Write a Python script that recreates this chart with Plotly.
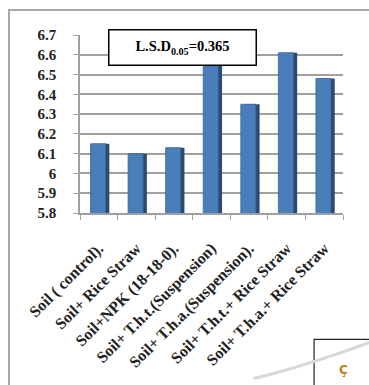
import plotly.graph_objects as go

# Treatments and measured values
categories = [
    "Soil ( control).",
    "Soil+ Rice Straw",
    "Soil+NPK (18-18-0).",
    "Soil+ T.h.t.(Suspension)",
    "Soil+ T.h.a.(Suspension).",
    "Soil+ T.h.t.+ Rice Straw",
    "Soil+ T.h.a.+ Rice Straw",
]
values = [6.15, 6.10, 6.13, 6.56, 6.35, 6.61, 6.48]
y_ticks = [5.8, 5.9, 6.0, 6.1, 6.2, 6.3, 6.4, 6.5, 6.6, 6.7]
lsd_value = 0.365

serif = "Liberation Serif, Times New Roman, serif"
front = "#4A7EBB"
side = "#2B4A72"

fig = go.Figure()
# darker side face drawn behind, shifted to the right
fig.add_trace(go.Bar(x=categories, y=values, width=0.4, offset=-0.12,
                     marker=dict(color=side, line=dict(width=0)), hoverinfo="skip"))
# front face
fig.add_trace(go.Bar(x=categories, y=values, width=0.4, offset=-0.22,
                     marker=dict(color=front, line=dict(color="#3A6598", width=0.8))))

shapes = [
    # outer frame
    dict(type="rect", xref="paper", yref="paper", x0=-0.27, x1=1.15, y0=-1.05, y1=1.14,
         line=dict(color="#a8a8a8", width=2), layer="below"),
    # small box at lower right
    dict(type="rect", xref="paper", yref="paper", x0=0.89, x1=1.15, y0=-0.71, y1=-1.05,
         line=dict(color="#222222", width=1.2), fillcolor="white"),
    # faint curved stroke
    dict(type="path", xref="paper", yref="paper",
         path="M 0.66 -0.93 Q 0.86 -0.86 1.15 -0.70",
         line=dict(color="#d8d8d8", width=3)),
]

annotations = [
    dict(text="<b>L.S.D<sub>0.05</sub>=%.3f</b>" % lsd_value, xref="paper", yref="paper",
         x=0.39, y=0.93, xanchor="center", yanchor="middle", showarrow=False,
         font=dict(family=serif, size=14.5, color="black"),
         bordercolor="black", borderwidth=1.5, bgcolor="white", borderpad=8,
         width=130, height=18),
    dict(text="<b>Ç</b>", xref="paper", yref="paper", x=1.0, y=-0.88,
         xanchor="center", yanchor="middle", showarrow=False,
         font=dict(family="DejaVu Sans", size=12, color="#c07a20")),
]

fig.update_layout(
    width=369, height=385,
    margin=dict(l=80, r=26, t=35, b=172),
    paper_bgcolor="white", plot_bgcolor="white",
    barmode="overlay", showlegend=False,
    shapes=shapes, annotations=annotations,
    xaxis=dict(tickangle=-45, tickfont=dict(family=serif, size=16, color="#222222"),
               showgrid=False, showline=True, linecolor="#a0a0a0", linewidth=1.5,
               ticks="outside", tickson="boundaries", ticklen=5, tickcolor="#a0a0a0",
               tickprefix="<b>", ticksuffix="</b>", ticklabelstandoff=18,
               automargin=False),
    yaxis=dict(range=[5.8, 6.7], tickvals=y_ticks,
               ticktext=["<b>%g</b>" % v for v in y_ticks],
               tickfont=dict(family=serif, size=15, color="#222222"),
               showgrid=True, gridcolor="#a0a0a0", gridwidth=1.5,
               showline=True, linecolor="#a0a0a0", linewidth=1.5, zeroline=False,
               ticks="outside", ticklen=5, tickcolor="#a0a0a0",
               ticklabelstandoff=14, automargin=False),
)

fig.write_html("out.html")
